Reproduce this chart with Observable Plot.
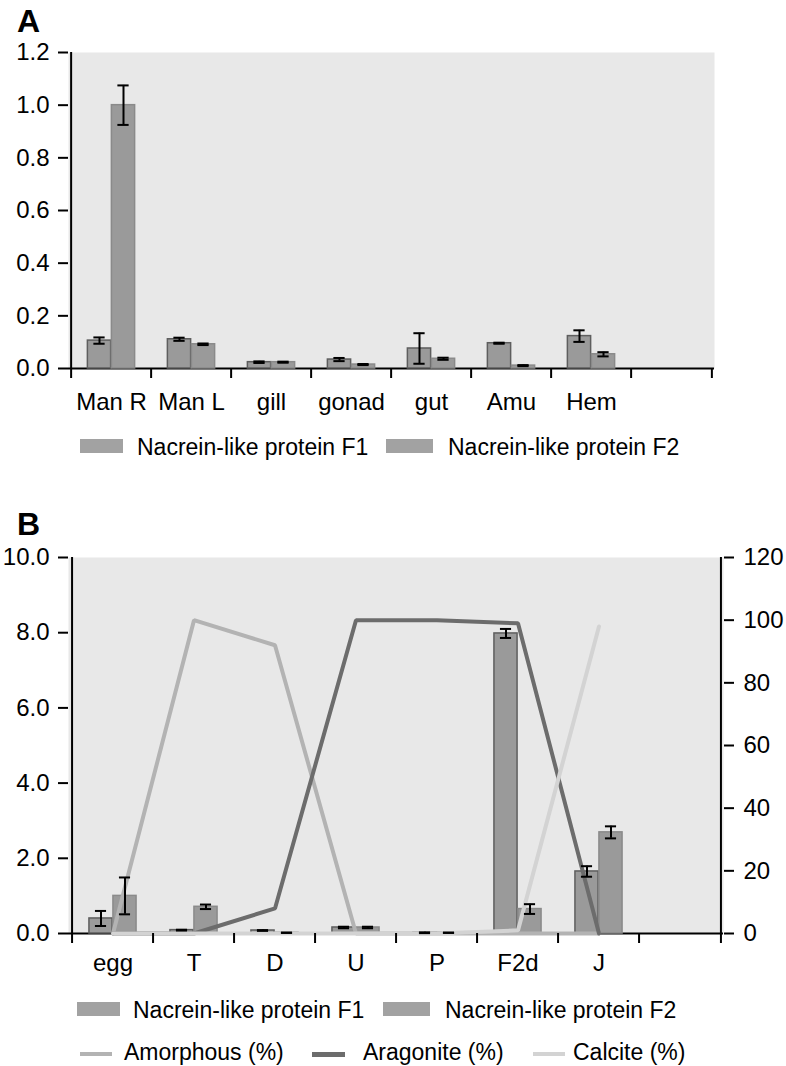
<!DOCTYPE html>
<html><head><meta charset="utf-8">
<script src="https://cdn.jsdelivr.net/npm/d3@7"></script>
<script src="https://cdn.jsdelivr.net/npm/@observablehq/plot@0.6"></script>
<style>
body{margin:0;background:#fff;}
#root{position:relative;width:786px;height:1066px;font-family:"Liberation Sans",Arial,sans-serif;color:#000;overflow:hidden;}
.abs{position:absolute;line-height:1;white-space:nowrap;}
svg{position:absolute;left:0;}
</style></head><body><div id="root"></div>
<script>
// ---- Panel A data ----
const tissues = ["Man R", "Man L", "gill", "gonad", "gut", "Amu", "Hem", ""];
const f1A    = [0.106, 0.111, 0.024, 0.034, 0.076, 0.096, 0.123];
const f1AErr = [0.012, 0.006, 0.003, 0.006, 0.058, 0.002, 0.022];
const f2A    = [1.000, 0.092, 0.024, 0.015, 0.037, 0.011, 0.054];
const f2AErr = [0.075, 0.003, 0.002, 0.002, 0.004, 0.002, 0.008];
const yTicksA = [0, 0.2, 0.4, 0.6, 0.8, 1.0, 1.2];

// ---- Panel B data ----
const stages = ["egg", "T", "D", "U", "P", "F2d", "J", ""];
const f1B    = [0.40, 0.09, 0.08, 0.16, 0.02, 7.98, 1.65];
const f1BErr = [0.20, 0.01, 0.01, 0.02, 0.01, 0.12, 0.14];
const f2B    = [1.00, 0.71, 0.02, 0.16, 0.02, 0.65, 2.69];
const f2BErr = [0.49, 0.06, 0.005, 0.02, 0.005, 0.13, 0.16];
const amorphous = [0, 100, 92, 0, 0, 0, 0];
const aragonite = [0, 0, 8, 100, 100, 99, 0];
const calcite   = [0, 0, 0, 0, 0, 1, 98];
const yTicksBL = [0, 2, 4, 6, 8, 10];
const yTicksBR = [0, 20, 40, 60, 80, 100, 120];

const seriesNames = ["Nacrein-like protein F1", "Nacrein-like protein F2"];
const lineNames = ["Amorphous (%)", "Aragonite (%)", "Calcite (%)"];

const FONT = '"Liberation Sans", Arial, sans-serif';
const FS = 24;
const BG = "#e8e8e8", BAR = "#9a9a9a", S1 = "#5e5e5e", S2 = "#8a8a8a";
const C_AM = "#b3b3b3", C_AR = "#6c6c6c", C_CA = "#d3d3d3";

const root = document.getElementById("root");

function groupChart({cats, f1, e1, f2, e2, yDomain, yTicks, width, height, mt, mr, mb, ml, labelPad, extra = [], rightAxis = null}) {
  const data = f1.map((v, i) => ({cat: cats[i], f1: v, e1: e1[i], f2: f2[i], e2: e2[i]}));
  const band = (width - ml - mr) / cats.length;
  const half = band / 2, bw = 24, off = 12, cap = 6;
  const marks = [
    Plot.frame({fill: BG, stroke: "none"}),
    Plot.ruleY([0], {stroke: "#000", strokeWidth: 2.2}),
    Plot.barY(data, {x: "cat", y: "f1", fill: BAR, stroke: S1, strokeWidth: 1.5, insetLeft: half - bw, insetRight: half}),
    Plot.barY(data, {x: "cat", y: "f2", fill: BAR, stroke: S2, strokeWidth: 1.5, insetLeft: half, insetRight: half - bw}),
    ...extra,
    // error bars
    Plot.ruleX(data, {x: "cat", y1: d => d.f1 - d.e1, y2: d => d.f1 + d.e1, dx: -off, stroke: "#000", strokeWidth: 2}),
    Plot.tickY(data, {x: "cat", y: d => d.f1 - d.e1, insetLeft: half - off - cap, insetRight: half + off - cap, stroke: "#000", strokeWidth: 2}),
    Plot.tickY(data, {x: "cat", y: d => d.f1 + d.e1, insetLeft: half - off - cap, insetRight: half + off - cap, stroke: "#000", strokeWidth: 2}),
    Plot.ruleX(data, {x: "cat", y1: d => d.f2 - d.e2, y2: d => d.f2 + d.e2, dx: off, stroke: "#000", strokeWidth: 2}),
    Plot.tickY(data, {x: "cat", y: d => d.f2 - d.e2, insetLeft: half + off - cap, insetRight: half - off - cap, stroke: "#000", strokeWidth: 2}),
    Plot.tickY(data, {x: "cat", y: d => d.f2 + d.e2, insetLeft: half + off - cap, insetRight: half - off - cap, stroke: "#000", strokeWidth: 2}),
    // axis lines
    Plot.ruleX([cats[0]], {dx: -half, stroke: "#000", strokeWidth: 2}),
    // x ticks at band boundaries
    Plot.axisX({tickSize: 10, dx: -half, tickFormat: () => "", strokeWidth: 2}),
    Plot.axisX({ticks: [cats[cats.length - 1]], tickSize: 10, dx: half, tickFormat: () => "", strokeWidth: 2}),
    Plot.axisX({tickSize: 0, tickPadding: labelPad, fontSize: FS}),
    Plot.axisY({ticks: yTicks, tickFormat: d3.format(".1f"), tickSize: 10, tickPadding: 9, strokeWidth: 2, fontSize: FS})
  ];
  if (rightAxis) {
    marks.push(Plot.ruleX([cats[cats.length - 1]], {dx: half, stroke: "#000", strokeWidth: 2}));
    marks.push(Plot.axisY({anchor: "right", ticks: rightAxis.ticks.map(v => v / rightAxis.k), tickFormat: d => Math.round(d * rightAxis.k), tickSize: 10, tickPadding: 10, strokeWidth: 2, fontSize: FS}));
  }
  return Plot.plot({
    width, height, marginTop: mt, marginRight: mr, marginBottom: mb, marginLeft: ml,
    style: {fontFamily: FONT, fontSize: FS + "px", color: "#000", background: "transparent", overflow: "visible"},
    x: {type: "band", domain: cats, padding: 0, label: null},
    y: {domain: yDomain, label: null},
    marks
  });
}

// ---- Panel A ----
const svgA = groupChart({
  cats: tissues, f1: f1A, e1: f1AErr, f2: f2A, e2: f2AErr,
  yDomain: [0, 1.2], yTicks: yTicksA,
  width: 786, height: 425, mt: 52, mr: 72, mb: 57, ml: 68, labelPad: 24
});
svgA.style.top = "0px";
root.appendChild(svgA);

// ---- Panel B ----
const K = 12; // right-axis units per left-axis unit (120 / 10)
const lineRows = (vals) => vals.map((v, i) => ({cat: stages[i], v: v / K}));
const svgB = groupChart({
  cats: stages, f1: f1B, e1: f1BErr, f2: f2B, e2: f2BErr,
  yDomain: [0, 10], yTicks: yTicksBL,
  width: 786, height: 510, mt: 87, mr: 63, mb: 47, ml: 68, labelPad: 20,
  extra: [
    Plot.lineY(lineRows(amorphous), {x: "cat", y: "v", stroke: C_AM, strokeWidth: 4, strokeLinejoin: "miter"}),
    Plot.lineY(lineRows(aragonite), {x: "cat", y: "v", stroke: C_AR, strokeWidth: 4, strokeLinejoin: "miter"}),
    Plot.lineY(lineRows(calcite), {x: "cat", y: "v", stroke: C_CA, strokeWidth: 4, strokeLinejoin: "miter"})
  ],
  rightAxis: {ticks: yTicksBR, k: K}
});
svgB.style.top = "470px";
root.appendChild(svgB);

// ---- HTML labels & legends ----
function text(str, x, baseline, size, bold) {
  const d = document.createElement("div");
  d.className = "abs";
  d.textContent = str;
  d.style.left = x + "px";
  d.style.top = (baseline - 0.8465 * size) + "px";
  d.style.fontSize = size + "px";
  if (bold) d.style.fontWeight = "bold";
  root.appendChild(d);
}
function box(x, y, w, h, color) {
  const d = document.createElement("div");
  d.className = "abs";
  Object.assign(d.style, {left: x + "px", top: y + "px", width: w + "px", height: h + "px", background: color});
  root.appendChild(d);
}

text("A", 17, 31.7, 32, true);
text("B", 17, 535, 32, true);

// Legend A
box(80, 439, 43, 14, "#a2a2a2"); text(seriesNames[0], 137, 455, 23);
box(386, 439, 47, 14, "#a2a2a2"); text(seriesNames[1], 448, 455, 23);

// Legend B row 1
box(77, 1002, 43, 14, "#a2a2a2"); text(seriesNames[0], 133, 1018.3, 23);
box(383, 1002, 47, 14, "#a2a2a2"); text(seriesNames[1], 445, 1018.3, 23);
// Legend B row 2
box(80, 1052, 32, 4, C_AM); text(lineNames[0], 124, 1060, 23);
box(312, 1052, 33, 5, C_AR); text(lineNames[1], 363, 1060, 23);
box(533, 1052, 32, 4, C_CA); text(lineNames[2], 573, 1060, 23);
</script></body></html>
